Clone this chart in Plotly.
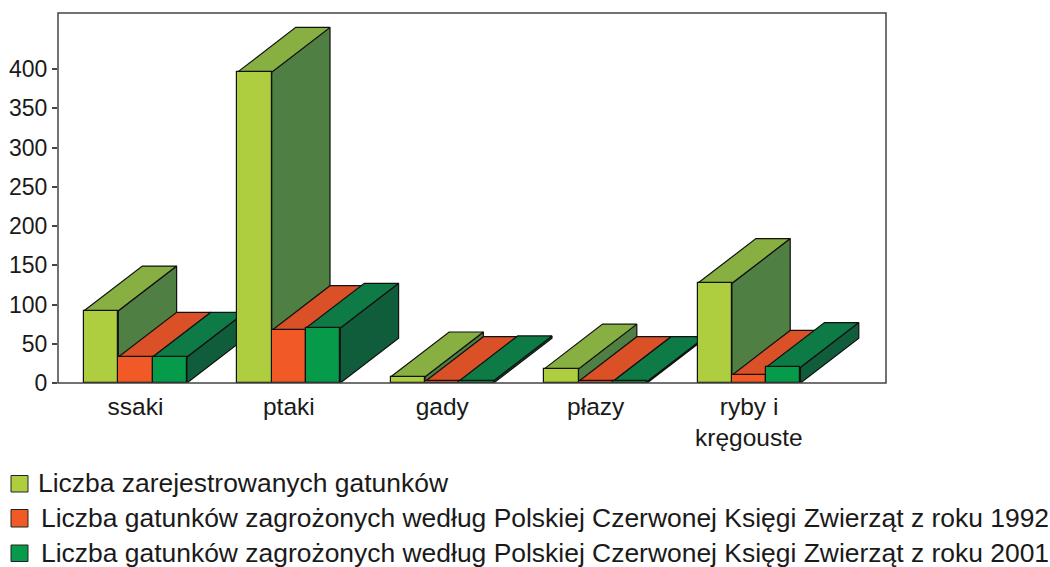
import plotly.graph_objects as go

categories = ["ssaki", "ptaki", "gady", "płazy", "ryby i"]
category_second_line = "kręgouste"
registered = [92, 396, 8, 18, 127]
endangered_1992 = [33, 67, 2, 2, 10]
endangered_2001 = [33, 70, 3, 2, 20]
y_ticks = [0, 50, 100, 150, 200, 250, 300, 350, 400]
legend_labels = [
    "Liczba zarejestrowanych gatunków",
    "Liczba gatunków zagrożonych według Polskiej Czerwonej Księgi Zwierząt z roku 1992",
    "Liczba gatunków zagrożonych według Polskiej Czerwonej Księgi Zwierząt z roku 2001",
]

W, H = 1050, 567
L, R, T, B = 58, 886, 13, 383
X_LO = -0.505
X_MAX = X_LO + (R - L) / 153.4
Y_MAX = (B - T) / 0.785
BAR = 0.2235
DX, DY = 0.38, 57.0
FONT = "Liberation Sans, Arial, sans-serif"
INK = "#1a1a1a"

series = [
    dict(name=legend_labels[0], vals=registered, off=-1, front="#AECE3F", top="#88AF41", side="#4F7F43", zf=7, zs=1),
    dict(name=legend_labels[1], vals=endangered_1992, off=0, front="#F15A27", top="#DA5128", side="#A8431F", zf=4, zs=3),
    dict(name=legend_labels[2], vals=endangered_2001, off=1, front="#069A4B", top="#0E7A45", side="#105D3B", zf=6, zs=5),
]

fig = go.Figure()
xs = list(range(len(categories)))
for s in series:
    tx, ty, sx, sy = [], [], [], []
    for i, v in zip(xs, s["vals"]):
        x0 = i + s["off"] * BAR - BAR / 2
        x1 = x0 + BAR
        tx += [x0, x0 + DX, x1 + DX, x1, x0, None]
        ty += [v, v + DY, v + DY, v, v, None]
        sx += [x1, x1 + DX, x1 + DX, x1, x1, None]
        sy += [v, v + DY, DY, 0, v, None]
    for px, py, col in ((sx, sy, s["side"]), (tx, ty, s["top"])):
        fig.add_trace(go.Scatter(
            x=px, y=py, mode="lines", fill="toself", fillcolor=col,
            line=dict(color="#111111", width=1.2), hoverinfo="skip",
            showlegend=False, zorder=s["zs"],
        ))
    fig.add_trace(go.Bar(
        x=[i + s["off"] * BAR for i in xs], y=s["vals"], width=BAR, name=s["name"],
        marker=dict(color=s["front"], line=dict(color="#111111", width=1.2)),
        showlegend=False, zorder=s["zf"],
    ))


def px_x(p):
    return (p - L) / (R - L)


def px_y(p):
    return (B - p) / (B - T)


shapes = [dict(
    type="rect", xref="paper", yref="paper", x0=0, x1=1, y0=0, y1=1,
    line=dict(color="#444444", width=1.5), layer="above",
)]
annotations = [dict(
    xref="x", yref="paper", x=xs[-1], y=px_y(437), xanchor="center", yanchor="middle",
    showarrow=False, text=category_second_line, font=dict(family=FONT, size=24.5, color=INK),
)]
legend_rows = [
    (483, 11, 28, 36, 475.5, 492),
    (518, 11, 28, 38.5, 509.5, 527),
    (553, 11, 28, 38.5, 545, 561.5),
]
for s, (yc, sq0, sq1, tx, y0, y1) in zip(series, legend_rows):
    shapes.append(dict(
        type="rect", xref="paper", yref="paper",
        x0=px_x(sq0), x1=px_x(sq1), y0=px_y(y1), y1=px_y(y0),
        fillcolor=s["front"], line=dict(color="#222222", width=1),
    ))
    annotations.append(dict(
        xref="paper", yref="paper", x=px_x(tx), y=px_y(yc),
        xanchor="left", yanchor="middle", showarrow=False, text=s["name"],
        font=dict(family=FONT, size=26.45, color=INK),
    ))

fig.update_layout(
    width=W, height=H, autosize=False,
    margin=dict(l=L, r=W - R, t=T, b=H - B, pad=0),
    paper_bgcolor="white", plot_bgcolor="white",
    barmode="overlay", bargap=0, showlegend=False,
    font=dict(family=FONT, size=24, color=INK),
    shapes=shapes, annotations=annotations,
    xaxis=dict(
        range=[X_LO, X_MAX], tickmode="array", tickvals=xs, ticktext=categories,
        ticks="outside", ticklen=2, tickcolor="rgba(0,0,0,0)", showgrid=False, zeroline=False,
        showline=False, automargin=False,
        tickfont=dict(family=FONT, size=24.5, color=INK), fixedrange=True,
    ),
    yaxis=dict(
        range=[0, Y_MAX], tickmode="array", tickvals=y_ticks,
        ticks="outside", ticklen=5, tickcolor="#444444", tickwidth=1.5, showgrid=False, zeroline=False,
        showline=False, automargin=False,
        tickfont=dict(family=FONT, size=23, color=INK), fixedrange=True,
    ),
)
fig.write_html("out.html", post_script="document.body.style.margin='0';",
               config=dict(displayModeBar=False))
